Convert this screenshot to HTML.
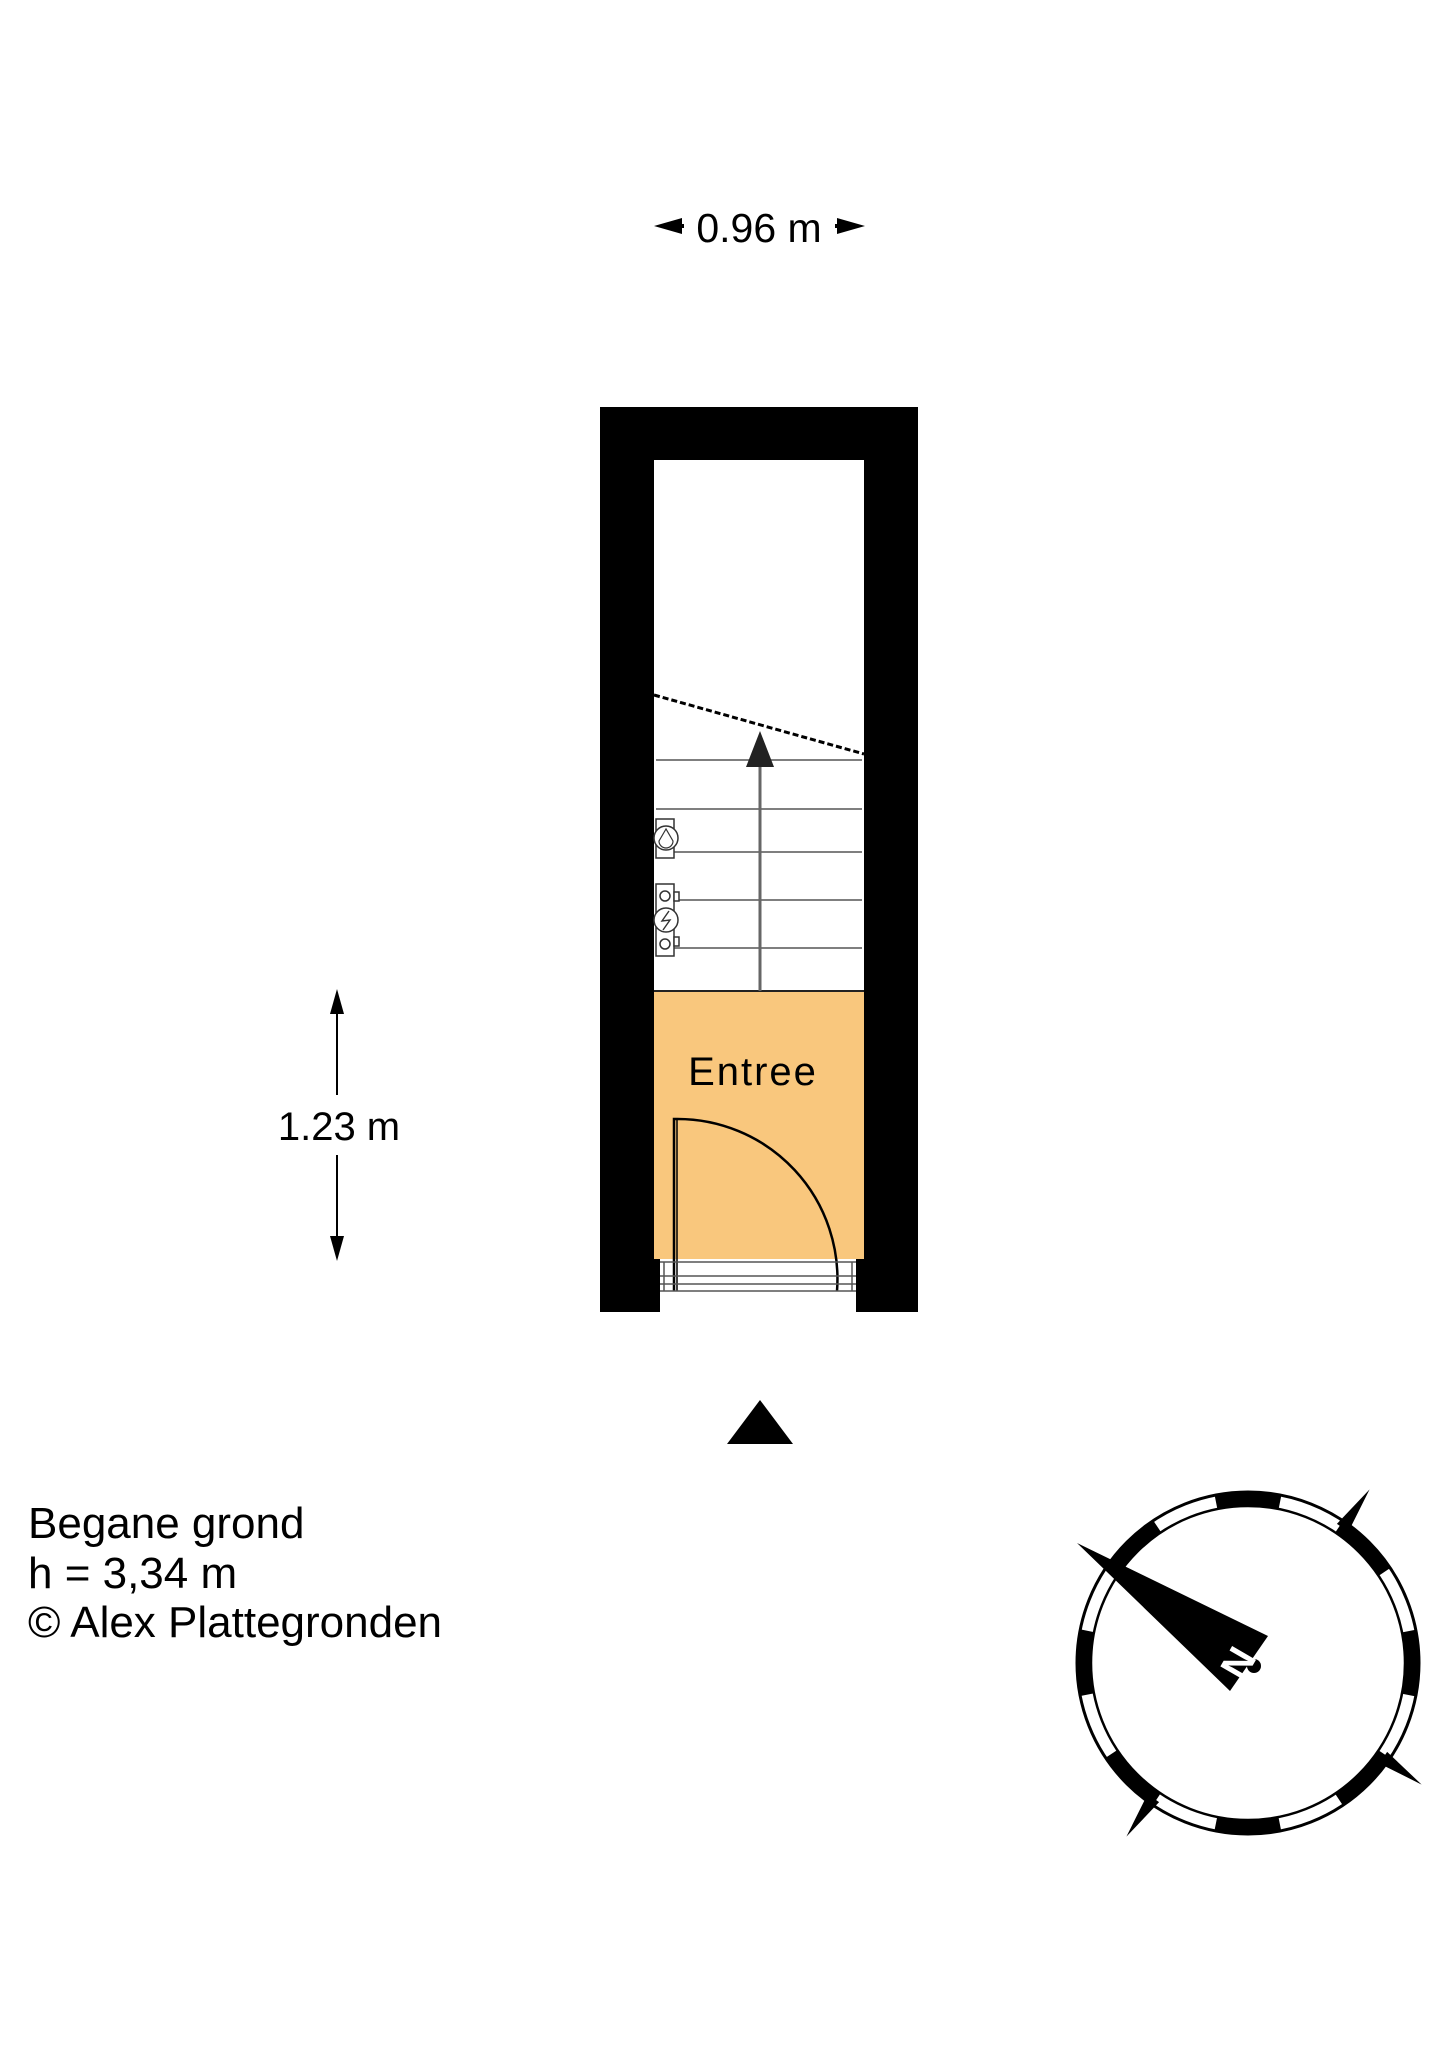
<!DOCTYPE html>
<html><head><meta charset="utf-8"><style>
html,body{margin:0;padding:0;background:#fff}
svg{display:block}
text{font-family:"Liberation Sans",Arial,sans-serif}
</style></head><body>
<svg width="1448" height="2048" viewBox="0 0 1448 2048" xmlns="http://www.w3.org/2000/svg">
<rect width="1448" height="2048" fill="#fff"/>
<!-- top dimension -->
<polygon points="654,226 682,218 682,234" fill="#000"/>
<rect x="676" y="224" width="8" height="4" fill="#000"/>
<polygon points="865,226 837,218 837,234" fill="#000"/>
<rect x="835" y="224" width="8" height="4" fill="#000"/>
<text x="759" y="242" font-size="41" text-anchor="middle">0.96 m</text>
<!-- walls -->
<rect x="600" y="407" width="318" height="905" fill="#000"/>
<rect x="654" y="460" width="210" height="799" fill="#fff"/>
<rect x="660" y="1259" width="196" height="53" fill="#fff"/>
<!-- orange -->
<rect x="654" y="991" width="210" height="268" fill="#f9c77d"/>
<!-- stairs -->
<polygon points="654,460 864,460 864,754 654,695" fill="#fff"/>
<line x1="654" y1="695" x2="864" y2="754" stroke="#000" stroke-width="3" stroke-dasharray="6,3"/>
<g stroke="#555" stroke-width="1.5">
<line x1="656" y1="760" x2="862" y2="760"/>
<line x1="656" y1="809" x2="862" y2="809"/>
<line x1="656" y1="852" x2="862" y2="852"/>
<line x1="656" y1="900" x2="862" y2="900"/>
<line x1="656" y1="948" x2="862" y2="948"/>
</g>
<line x1="654" y1="991" x2="864" y2="991" stroke="#222" stroke-width="2"/>
<line x1="760" y1="991" x2="760" y2="762" stroke="#666" stroke-width="3"/>
<polygon points="760,731 746,767 774,767" fill="#222"/>
<!-- meters -->
<g fill="#fff" stroke="#333" stroke-width="1.5">
<rect x="656" y="819" width="18" height="39"/>
<circle cx="666" cy="838" r="12"/>
<rect x="656" y="884" width="18" height="72"/>
<rect x="674" y="892" width="5" height="9"/>
<rect x="674" y="937" width="5" height="9"/>
<circle cx="665" cy="896" r="5"/>
<circle cx="665" cy="944" r="5"/>
<circle cx="666" cy="920" r="12"/>
</g>
<path d="M666 829 L659 841 A7 7 0 0 0 673 841 Z" fill="none" stroke="#333" stroke-width="1.2"/>
<path d="M669 911 L662 921 L670 920 L663 930" fill="none" stroke="#333" stroke-width="1.4"/>
<!-- Entree -->
<text x="753" y="1085" font-size="40" text-anchor="middle" letter-spacing="2">Entree</text>
<!-- door -->
<path d="M674 1291 L674 1119 L677 1119 A160 160 0 0 1 837 1291" fill="none" stroke="#000" stroke-width="2.5"/>
<line x1="677" y1="1119" x2="677" y2="1291" stroke="#000" stroke-width="1.5"/>
<!-- threshold -->
<g stroke="#555" stroke-width="1.5">
<line x1="660" y1="1262" x2="856" y2="1262"/>
<line x1="660" y1="1276" x2="856" y2="1276"/>
<line x1="660" y1="1284" x2="856" y2="1284"/>
<line x1="660" y1="1291" x2="856" y2="1291"/>
<line x1="664" y1="1262" x2="664" y2="1291"/>
<line x1="852" y1="1262" x2="852" y2="1291"/>
</g>
<!-- left dimension -->
<line x1="337" y1="1000" x2="337" y2="1095" stroke="#000" stroke-width="2"/>
<line x1="337" y1="1155" x2="337" y2="1250" stroke="#000" stroke-width="2"/>
<polygon points="337,989 330,1014 344,1014" fill="#000"/>
<polygon points="337,1261 330,1236 344,1236" fill="#000"/>
<text x="339" y="1140" font-size="40" text-anchor="middle">1.23 m</text>
<!-- entrance triangle -->
<polygon points="760,1400 727,1444 793,1444" fill="#000"/>
<!-- caption -->
<text x="28" y="1538" font-size="44">Begane grond</text>
<text x="28" y="1588" font-size="44">h = 3,34 m</text>
<text x="28" y="1637" font-size="44">© Alex Plattegronden</text>
<!-- compass -->
<g transform="translate(1248,1663)">
<polygon points="0,-212 -7,-165 7,-165" fill="#000" transform="rotate(35)"/>
<polygon points="0,-212 -7,-165 7,-165" fill="#000" transform="rotate(125)"/>
<polygon points="0,-212 -7,-165 7,-165" fill="#000" transform="rotate(215)"/>
<circle r="164" fill="none" stroke="#000" stroke-width="15" stroke-dasharray="64.4 64.4" transform="rotate(-101.25)"/>
<circle r="171" fill="none" stroke="#000" stroke-width="3"/>
<circle r="157" fill="none" stroke="#000" stroke-width="2.5"/>
<circle r="154" fill="#fff"/>
<polygon points="-171,-120 20,-27 -18,28" fill="#000"/>
<circle cx="6" cy="3" r="7" fill="#000"/>
<text x="-10" y="14" font-size="40" font-weight="bold" fill="#fff" text-anchor="middle" transform="rotate(-60 -10 0)">N</text>
</g>
</svg>
</body></html>
